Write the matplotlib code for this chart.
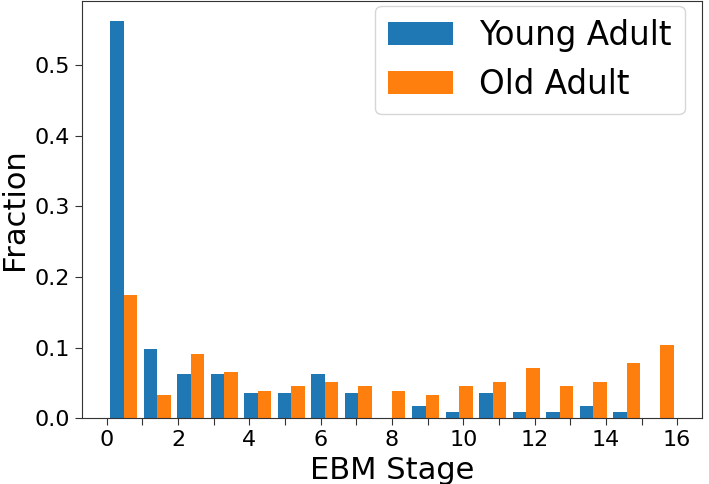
import numpy as np
import matplotlib
matplotlib.use("Agg")
import matplotlib.pyplot as plt

# EBM stages 0..16
stages = list(range(17))
young_adult = [0.5625, 0.0982, 0.0625, 0.0625, 0.0357, 0.0357, 0.0625, 0.0357, 0.0,
               0.0179, 0.0089, 0.0357, 0.0089, 0.0089, 0.0179, 0.0089, 0.0]
old_adult = [0.1750, 0.0324, 0.0907, 0.0648, 0.0389, 0.0454, 0.0518, 0.0454, 0.0389,
             0.0324, 0.0454, 0.0518, 0.0713, 0.0454, 0.0518, 0.0778, 0.1037]
series_labels = ["Young Adult", "Old Adult"]
xtick_vals = list(range(17))
xtick_labels = [str(v) if v % 2 == 0 else "" for v in xtick_vals]

fig = plt.figure(figsize=(7.09, 4.84), dpi=100)
ax = fig.add_axes([82/709, 65.7/484, 620/709, 417.5/484])

edges = np.linspace(min(stages), max(stages), len(stages) + 1)
centers = 0.5 * (edges[:-1] + edges[1:])
ax.hist([centers, centers], bins=edges, weights=[young_adult, old_adult],
        color=["#1f77b4", "#ff7f0e"], label=series_labels)

ax.set_xticks(xtick_vals)
ax.set_xticklabels(xtick_labels)
ax.set_yticks([0.0, 0.1, 0.2, 0.3, 0.4, 0.5])
ax.tick_params(axis="both", labelsize=16, length=5, color="#333333")
for s in ax.spines.values():
    s.set_color("#333333")
ax.set_xlabel("EBM Stage", fontsize=22)
ax.set_ylabel("Fraction", fontsize=22)
ax.legend(fontsize=23.5, loc="upper right", bbox_to_anchor=(0.9726, 0.988),
          borderaxespad=0.0)

fig.savefig("out.png", dpi=100)
